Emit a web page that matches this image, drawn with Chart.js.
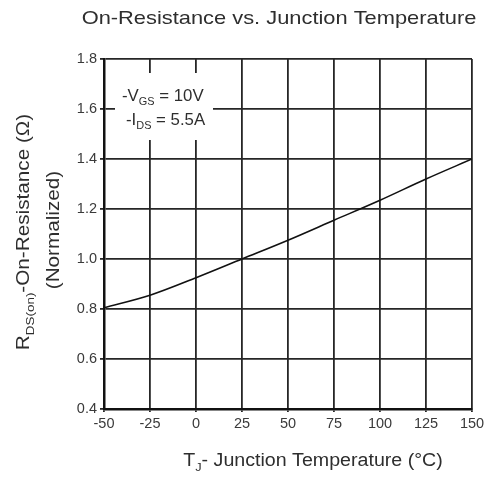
<!DOCTYPE html>
<html>
<head>
<meta charset="utf-8">
<script src="https://cdn.jsdelivr.net/npm/chart.js@4/dist/chart.umd.min.js"></script>
<style>
  html, body { margin: 0; padding: 0; background: #fff; }
  #wrap { width: 490px; height: 480px; }
</style>
</head>
<body>
<div id="wrap"><canvas id="rdsChart" width="490" height="480"></canvas></div>
<script>
// temperature points (°C) and normalized on-resistance
var tempC = [-50, -25, 0, 25, 50, 75, 100, 125, 150];
var rdsNorm = [0.805, 0.855, 0.925, 1.0, 1.075, 1.155, 1.235, 1.32, 1.40];

var xTicks = [-50, -25, 0, 25, 50, 75, 100, 125, 150];
var yTicks = [0.4, 0.6, 0.8, 1.0, 1.2, 1.4, 1.6, 1.8];

var FONT = '"Liberation Sans", Arial, sans-serif';
var TXT = '#2e2e2e';

// text made of [string, isSubscript] pieces, stretched a bit along the line
function richWidth(ctx, parts, size, sx) {
    var w = 0;
    parts.forEach(function (p) {
        ctx.font = (p[1] ? size * 0.65 : size) + 'px ' + FONT;
        w += ctx.measureText(p[0]).width;
    });
    return w * sx;
}
function drawRich(ctx, parts, x, y, size, sx) {
    ctx.save();
    ctx.translate(x, y);
    ctx.scale(sx, 1);
    var cx = 0;
    parts.forEach(function (p) {
        var s = p[1] ? size * 0.65 : size;
        ctx.font = s + 'px ' + FONT;
        ctx.fillText(p[0], cx, p[1] ? size * 0.28 : 0);
        cx += ctx.measureText(p[0]).width;
    });
    ctx.restore();
}

var textPlugin = {
    id: 'textPlugin',
    beforeDatasetsDraw: function (chart) {
        // white box behind the test condition note
        var ctx = chart.ctx;
        ctx.save();
        ctx.fillStyle = '#fff';
        ctx.fillRect(115, 73, 98, 67);
        ctx.restore();
    },
    afterDraw: function (chart) {
        var ctx = chart.ctx;
        var a = chart.chartArea;
        ctx.save();
        ctx.fillStyle = TXT;
        ctx.textAlign = 'left';
        ctx.textBaseline = 'alphabetic';

        // title
        var tParts = [['On-Resistance vs. Junction Temperature', false]];
        var tw = richWidth(ctx, tParts, 19, 1.15);
        drawRich(ctx, tParts, 279 - tw / 2, 24, 19, 1.15);

        // note
        drawRich(ctx, [['-V', false], ['GS', true], [' = 10V', false]], 122, 101, 16, 1.05);
        drawRich(ctx, [['-I', false], ['DS', true], [' = 5.5A', false]], 126, 125, 16, 1.05);

        // x axis title
        var xParts = [['T', false], ['J', true], ['- Junction Temperature (°C)', false]];
        var xw = richWidth(ctx, xParts, 18, 1.09);
        drawRich(ctx, xParts, 313 - xw / 2, 466, 18, 1.09);

        // y axis title, rotated
        var yParts = [['R', false], ['DS(on)', true], ['-On-Resistance (Ω)', false]];
        var yw = richWidth(ctx, yParts, 18, 1.15);
        ctx.save();
        ctx.translate(29, 232);
        ctx.rotate(-Math.PI / 2);
        drawRich(ctx, yParts, -yw / 2, 0, 18, 1.15);
        ctx.restore();

        var nParts = [['(Normalized)', false]];
        var nw = richWidth(ctx, nParts, 18, 1.15);
        ctx.save();
        ctx.translate(59, 230);
        ctx.rotate(-Math.PI / 2);
        drawRich(ctx, nParts, -nw / 2, 0, 18, 1.15);
        ctx.restore();

        ctx.restore();
    }
};

var ctx = document.getElementById('rdsChart').getContext('2d');
var rdsChart = new Chart(ctx, {
    type: 'line',
    data: {
        datasets: [{
            data: tempC.map(function (t, i) { return { x: t, y: rdsNorm[i] }; }),
            borderColor: '#111',
            borderWidth: 1.6,
            pointRadius: 0,
            cubicInterpolationMode: 'monotone',
            fill: false
        }]
    },
    options: {
        responsive: false,
        animation: false,
        layout: { padding: { left: 0, right: 18, top: 59, bottom: 0 } },
        plugins: {
            legend: { display: false },
            tooltip: { enabled: false }
        },
        scales: {
            x: {
                type: 'linear',
                min: -50,
                max: 150,
                afterBuildTicks: function (s) { s.ticks = xTicks.map(function (v) { return { value: v }; }); },
                afterFit: function (s) { s.height = 71; },
                ticks: {
                    color: '#3a3a3a',
                    font: { family: FONT, size: 14.5 },
                    padding: 3,
                    maxRotation: 0
                },
                grid: { color: '#262626', lineWidth: 1.8, tickLength: 3 },
                border: { color: '#111', width: 2.5 }
            },
            y: {
                type: 'linear',
                min: 0.4,
                max: 1.8,
                afterBuildTicks: function (s) { s.ticks = yTicks.map(function (v) { return { value: v }; }); },
                afterFit: function (s) { s.width = 104; },
                ticks: {
                    color: '#3a3a3a',
                    font: { family: FONT, size: 14.5 },
                    padding: 3,
                    callback: function (v) { return v.toFixed(1); }
                },
                grid: { color: '#262626', lineWidth: 1.8, tickLength: 4 },
                border: { color: '#111', width: 2.5 }
            }
        }
    },
    plugins: [textPlugin]
});
</script>
</body>
</html>
